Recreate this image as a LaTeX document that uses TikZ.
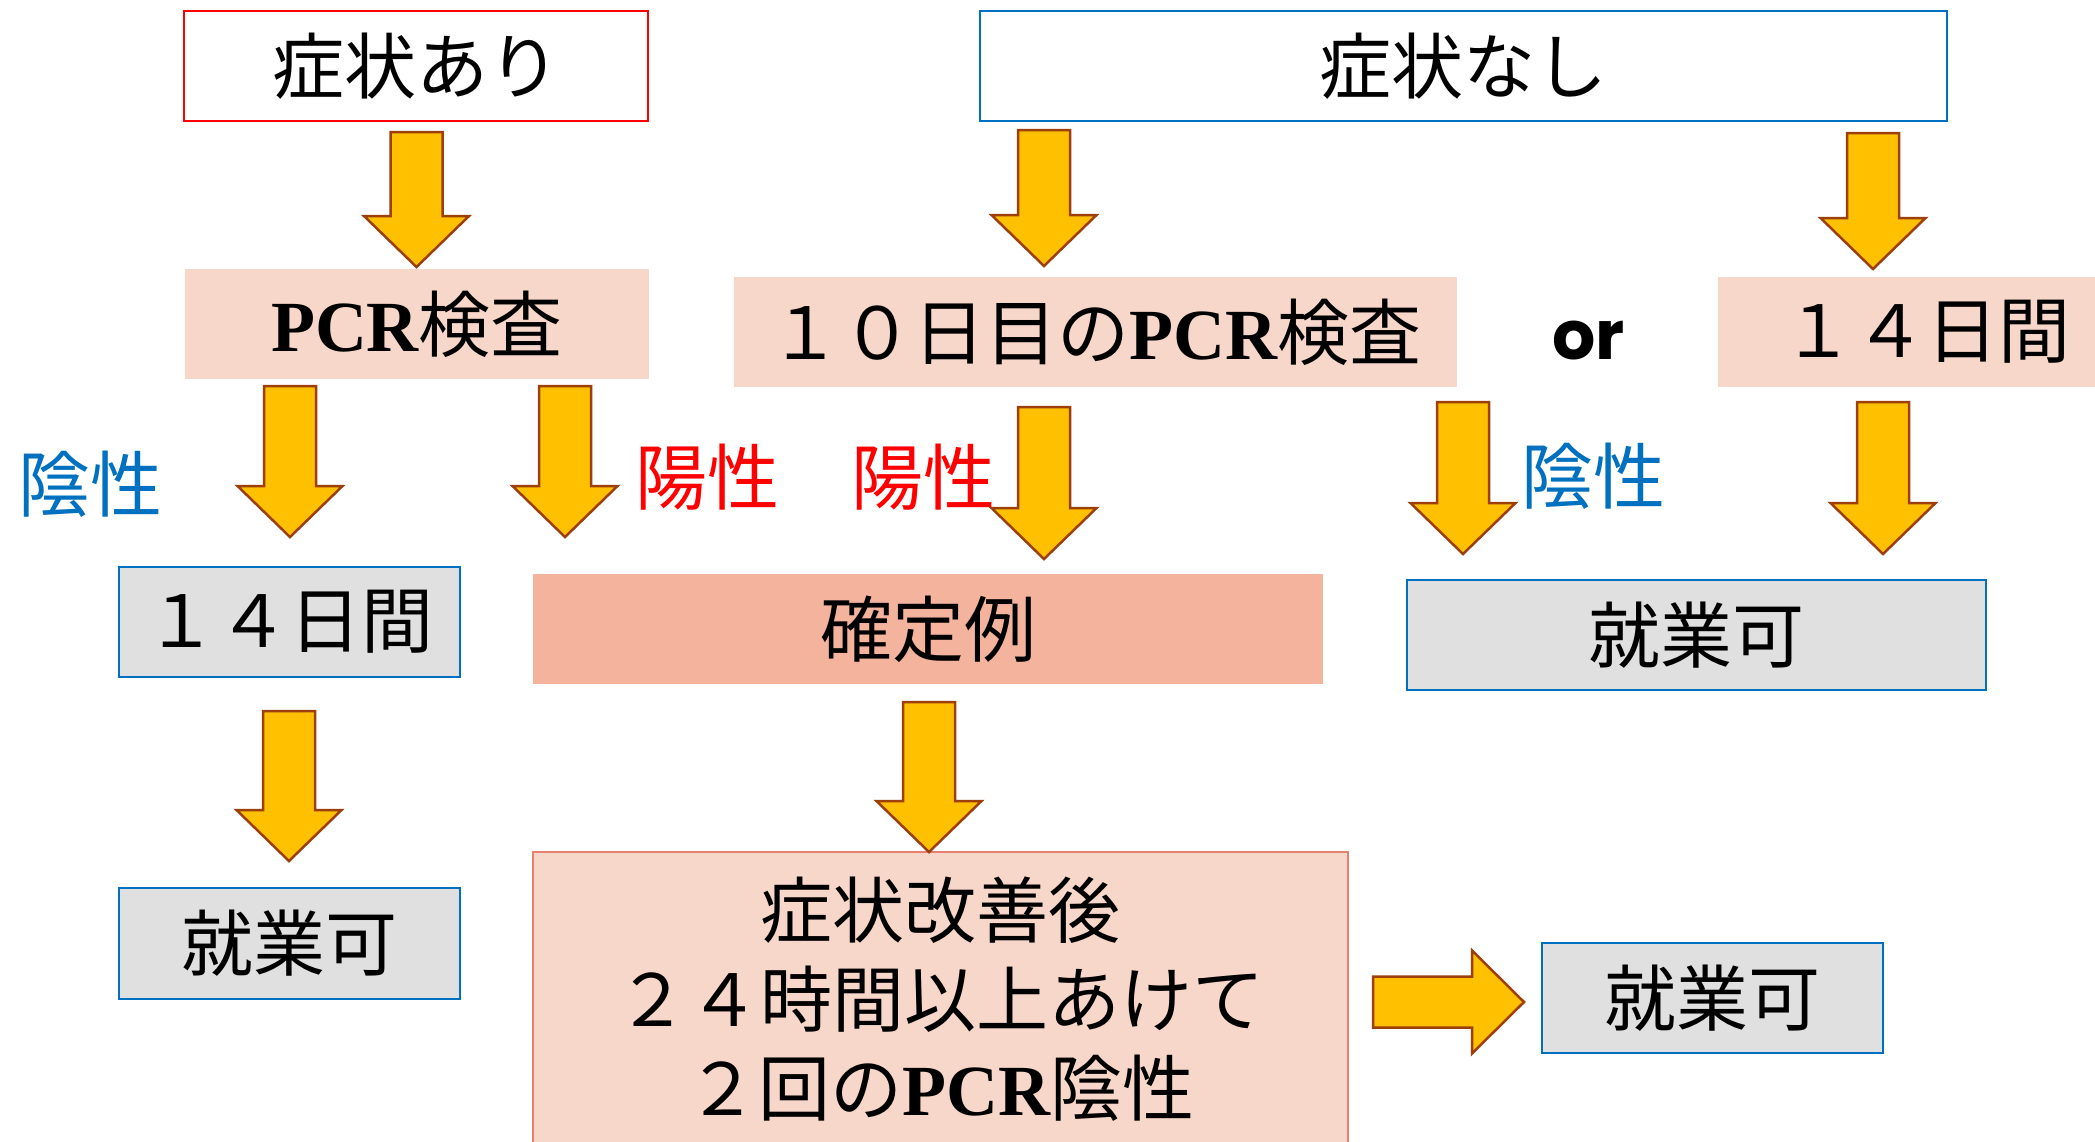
\documentclass[tikz,border=0pt]{standalone}
\usepackage{fontspec}
\newfontfamily\jp{Noto Sans CJK JP}
\newfontfamily\lserif{Liberation Serif}
\newfontfamily\orfont{Poppins}
\usetikzlibrary{calc}
\definecolor{arrowfill}{HTML}{FFC000}
\definecolor{arrowline}{HTML}{9C3F0A}
\definecolor{pinkfill}{HTML}{F8D7CB}
\definecolor{salmonfill}{HTML}{F3B39D}
\definecolor{greyfill}{HTML}{E0E0E0}
\definecolor{bblue}{HTML}{0070C0}
\definecolor{rred}{HTML}{FF0000}
\definecolor{bigline}{HTML}{E8806E}
\newcommand\pcrtext{{\lserif\bfseries PCR}}
\newcommand\blockdown[2]{%
  \draw[blockarrow] let \p1=(#1), \p2=(#2) in
  (\x1-26pt,\y1) -- (\x1+26pt,\y1) -- (\x1+26pt,\y2+51pt) -- (\x1+52.5pt,\y2+51pt)
  -- (\x2,\y2) -- (\x1-52.5pt,\y2+51pt) -- (\x1-26pt,\y2+51pt) -- cycle;}
\newcommand\blockright[2]{%
  \draw[blockarrow] let \p1=(#1), \p2=(#2) in
  (\x1,\y1+25.5pt) -- (\x2-52pt,\y1+25.5pt) -- (\x2-52pt,\y1+51.5pt) -- (\x2,\y2)
  -- (\x2-52pt,\y1-51.5pt) -- (\x2-52pt,\y1-25.5pt) -- (\x1,\y1-25.5pt) -- cycle;}
\tikzset{
  basebox/.style={rectangle, inner sep=0pt, minimum height=110pt, text=black,
    font=\jp\fontsize{72}{86}\selectfont},
  redbox/.style={basebox, draw=rred, line width=2pt, fill=white},
  bluebox/.style={basebox, draw=bblue, line width=2pt, fill=white},
  pinkbox/.style={basebox, fill=pinkfill},
  salmonbox/.style={basebox, fill=salmonfill},
  greybox/.style={basebox, fill=greyfill, draw=bblue, line width=2pt},
  bigbox/.style={basebox, fill=pinkfill, draw=bigline, line width=1.5pt, align=center,
    font=\jp\fontsize{72}{89}\selectfont},
  lbl/.style={inner sep=0pt, font=\jp\fontsize{72}{86}\selectfont},
  blockarrow/.style={fill=arrowfill, draw=arrowline, line width=2.5pt, line join=miter},
}
\begin{document}
\begin{tikzpicture}[x=1pt, y=-1pt]
\clip (0,0) rectangle (2095,1141);
\fill[white] (0,0) rectangle (2095,1141);
% boxes
\node[redbox, minimum width=464pt] (sa) at (416,66) {症状あり};
\node[bluebox, minimum width=967pt] (sn) at (1463.5,66) {症状なし};
\node[pinkbox, minimum width=464pt] (pcr1) at (417,324) {\pcrtext 検査};
\node[pinkbox, minimum width=723pt] (pcr10) at (1095.5,332) {１０日目の\pcrtext 検査};
\node[pinkbox, minimum width=416pt] (d14r) at (1926,332) {１４日間};
\node[font=\orfont\bfseries\fontsize{68}{80}\selectfont, inner sep=0pt, anchor=base] (or) at (1588.5,359) {or};
\node[greybox, minimum width=341pt] (d14l) at (289.5,622) {１４日間};
\node[salmonbox, minimum width=790pt] (kt) at (928,629) {確定例};
\node[greybox, minimum width=579pt] (ok1) at (1696.5,635) {就業可};
\node[greybox, minimum width=341pt, minimum height=111pt] (okl) at (289.5,943.5) {就業可};
\node[bigbox, minimum width=815pt, minimum height=294pt] (big) at (940.5,999) {症状改善後\\２４時間以上あけて\\２回の\pcrtext 陰性};
\node[greybox, minimum width=341pt] (okr) at (1712.5,998) {就業可};
% labels
\node[lbl, text=bblue] (neg1) at (90,484) {陰性};
\node[lbl, text=rred] (pos) at (815,477) {陽性　陽性};
\node[lbl, text=bblue] (neg2) at (1593.5,476) {陰性};
% arrow end points
\coordinate (a1s) at (416.5,132); \coordinate (a1e) at (416.5,267);
\coordinate (a2s) at (1044,130);  \coordinate (a2e) at (1044,266);
\coordinate (a3s) at (1873,133);  \coordinate (a3e) at (1873,269);
\coordinate (a4s) at (290,386);   \coordinate (a4e) at (290,537);
\coordinate (a5s) at (565,386);   \coordinate (a5e) at (565,537);
\coordinate (a6s) at (1044,407);  \coordinate (a6e) at (1044,559);
\coordinate (a7s) at (1463,402);  \coordinate (a7e) at (1463,554);
\coordinate (a8s) at (1883,402);  \coordinate (a8e) at (1883,554);
\coordinate (a9s) at (289,711);   \coordinate (a9e) at (289,861);
\coordinate (a10s) at (929,702);  \coordinate (a10e) at (929,852);
\coordinate (a11s) at (1373,1002); \coordinate (a11e) at (1524,1002);
% arrows
\blockdown{a1s}{a1e}
\blockdown{a2s}{a2e}
\blockdown{a3s}{a3e}
\blockdown{a4s}{a4e}
\blockdown{a5s}{a5e}
\blockdown{a6s}{a6e}
\blockdown{a7s}{a7e}
\blockdown{a8s}{a8e}
\blockdown{a9s}{a9e}
\blockdown{a10s}{a10e}
\blockright{a11s}{a11e}
\end{tikzpicture}
\end{document}
